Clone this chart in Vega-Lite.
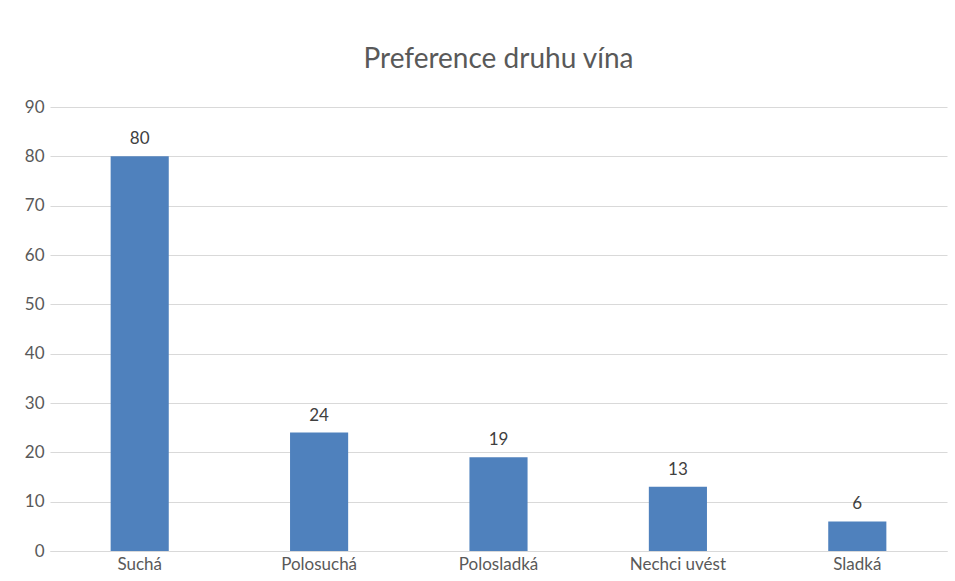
{
  "$schema": "https://vega.github.io/schema/vega-lite/v6.json",
  "width": 897,
  "height": 444,
  "autosize": {"type": "none"},
  "padding": {"left": 50, "top": 107, "right": 8, "bottom": 30},
  "background": "white",
  "title": {
    "text": "Preference druhu vína",
    "font": "Lato",
    "fontSize": 28,
    "fontWeight": "normal",
    "color": "#595959",
    "anchor": "middle",
    "offset": 24
  },
  "data": {
    "values": [
      {"kategorie": "Suchá", "pocet": 80},
      {"kategorie": "Polosuchá", "pocet": 24},
      {"kategorie": "Polosladká", "pocet": 19},
      {"kategorie": "Nechci uvést", "pocet": 13},
      {"kategorie": "Sladká", "pocet": 6}
    ]
  },
  "encoding": {
    "x": {
      "field": "kategorie",
      "type": "nominal",
      "sort": null,
      "scale": {"paddingInner": 0.676, "paddingOuter": 0.338},
      "axis": {
        "title": null,
        "labelAngle": 0,
        "labelFont": "Lato",
        "labelFontSize": 17,
        "labelColor": "#595959",
        "labelPadding": 5,
        "ticks": false,
        "domainColor": "#d9d9d9",
        "domainWidth": 1
      }
    },
    "y": {
      "field": "pocet",
      "type": "quantitative",
      "scale": {"domain": [0, 90]},
      "axis": {
        "title": null,
        "values": [0, 10, 20, 30, 40, 50, 60, 70, 80, 90],
        "labelFont": "Lato",
        "labelFontSize": 17,
        "labelColor": "#595959",
        "labelPadding": 6,
        "ticks": false,
        "domain": false,
        "gridColor": "#d9d9d9",
        "gridWidth": 1
      }
    }
  },
  "layer": [
    {"mark": {"type": "bar", "color": "#4f81bd"}},
    {
      "mark": {
        "type": "text",
        "baseline": "bottom",
        "dy": -8,
        "font": "Lato",
        "fontSize": 17,
        "color": "#404040"
      },
      "encoding": {"text": {"field": "pocet", "type": "quantitative"}}
    }
  ],
  "config": {"view": {"stroke": null}}
}
